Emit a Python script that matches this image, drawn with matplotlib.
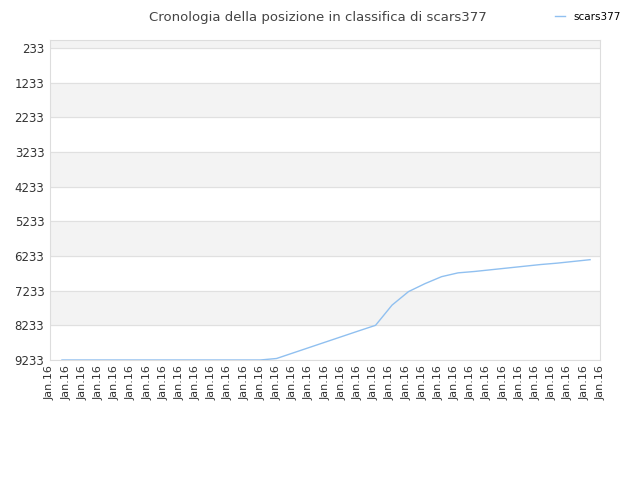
import matplotlib
matplotlib.use("Agg")
import matplotlib.pyplot as plt
import numpy as np

player = "scars377"
ranks = [9233] * 13 + [9190, 9030, 8870, 8710, 8550, 8390, 8233, 7650, 7260, 7030,
                       6830, 6720, 6680, 6630, 6580, 6530, 6480, 6440, 6390, 6340]
yticks = [233, 1233, 2233, 3233, 4233, 5233, 6233, 7233, 8233, 9233]
n_labels = 35
tick_label = "Jan.16"

fig = plt.figure(figsize=(6.4, 4.8), dpi=100)
ax = fig.add_axes([0.078, 0.25, 0.86, 0.667])

x = np.arange(len(ranks))
xlim = (-0.73, len(ranks) - 1 + 0.62)
ax.set_xlim(*xlim)
ax.set_ylim(9233, 0)

# alternating bands
bands = [(0, 233)] + [(yticks[i], yticks[i + 1]) for i in range(1, len(yticks) - 1, 2)]
for lo, hi in bands:
    ax.axhspan(lo, hi, color="#f3f3f3", zorder=0)
for t in yticks:
    ax.axhline(t, color="#e0e0e0", lw=0.8, zorder=1)

ax.plot(x, ranks, color="#90c0f0", lw=1, zorder=3, label=player)

ax.set_yticks(yticks)
ax.set_yticklabels([str(t) for t in yticks], fontsize=8.5, color="#333333")
ax.set_xticks(np.linspace(xlim[0], xlim[1], n_labels))
ax.set_xticklabels([tick_label] * n_labels, rotation=90, fontsize=8, color="#333333")
ax.tick_params(length=0, pad=4)
for s in ax.spines.values():
    s.set_color("#dddddd")

fig.text(0.497, 0.978, "Cronologia della posizione in classifica di scars377",
         ha="center", va="top", fontsize=9.5, color="#444444")
fig.legend(loc="upper right", bbox_to_anchor=(0.985, 0.995), frameon=False,
           fontsize=7.5, handlelength=1.0)

fig.savefig("out.png")
